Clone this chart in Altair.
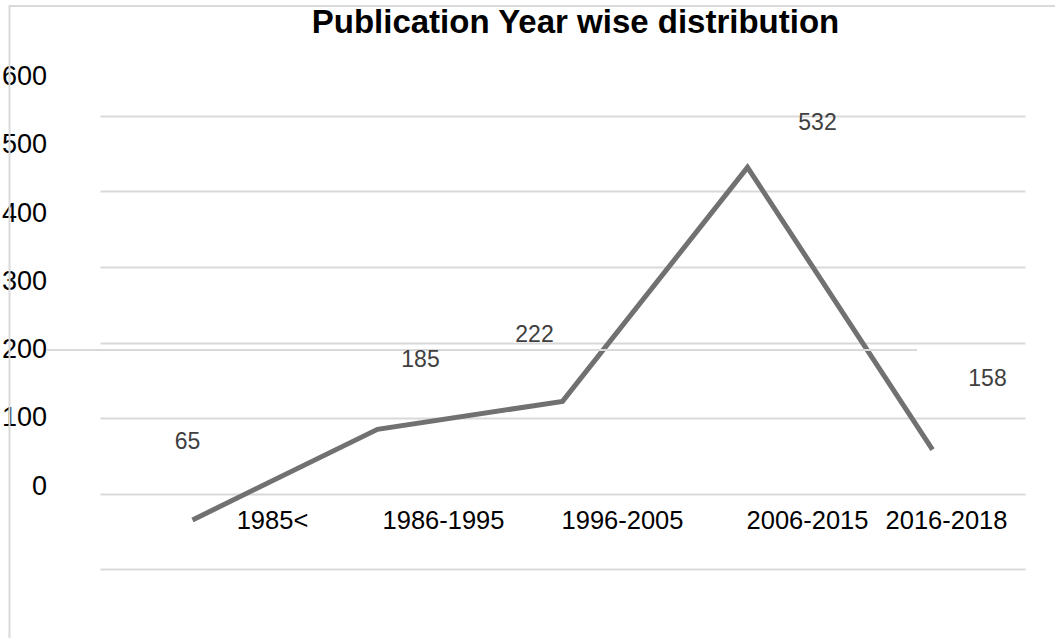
import altair as alt
import pandas as pd

# ---- data ----
categories = ["1985<", "1986-1995", "1996-2005", "2006-2015", "2016-2018"]
counts = [65, 185, 222, 532, 158]
y_tick_labels = [0, 100, 200, 300, 400, 500, 600]
title_text = "Publication Year wise distribution"

# ---- layout nudges (pixels, style only) ----
value_label_dx = [-5, 43, -28, 70, 55]
cat_label_dx = [80, 66, 60, 60, 14]

FONT = "Liberation Sans"
GRID = "#d9d9d9"

df = pd.DataFrame({"cat": categories, "value": counts})
ticks_df = pd.DataFrame({"tick": y_tick_labels, "lab": [str(t) for t in y_tick_labels]})

W, H = 925, 453
x_enc = alt.X("cat:N", sort=categories, axis=None,
              scale=alt.Scale(type="point", padding=0.5))
plot_scale = alt.Scale(domain=[0, 600], nice=False, zero=True)
# the label layer uses its own (offset) vertical scale, as in the source picture
text_scale = alt.Scale(domain=[0, 600], range=[370.5, -39], nice=False)

line = alt.Chart(df).mark_line(color="#717171", strokeWidth=5).encode(
    x=x_enc,
    y=alt.Y("value:Q", scale=plot_scale,
            axis=alt.Axis(values=y_tick_labels, grid=True, gridColor=GRID, gridWidth=2,
                          labels=False, ticks=False, domain=False, title=None)),
)

layers = [line]

# y "axis" labels
ylabels = alt.Chart(ticks_df).mark_text(
    align="right", baseline="middle", font=FONT, fontSize=27, color="#000000"
).encode(
    x=alt.value(-53),
    y=alt.Y("tick:Q", scale=text_scale, axis=None),
    text="lab:N",
)
layers.append(ylabels)

# stray gridline through the 200 label
stray = alt.Chart(pd.DataFrame({"v": [200]})).mark_rule(color=GRID, strokeWidth=2).encode(
    x=alt.value(-53), x2=alt.value(817),
    y=alt.Y("v:Q", scale=text_scale, axis=None),
)
layers.append(stray)

for i, (c, v) in enumerate(zip(categories, counts)):
    sub = df.iloc[[i]]
    layers.append(
        alt.Chart(sub).mark_text(
            align="center", baseline="middle", font=FONT, fontSize=23,
            color="#404040", dx=value_label_dx[i]
        ).encode(
            x=x_enc,
            y=alt.Y("value:Q", scale=text_scale, axis=None),
            text="value:Q",
        )
    )
    layers.append(
        alt.Chart(sub).mark_text(
            align="center", baseline="middle", font=FONT, fontSize=25.5,
            color="#000000", dx=cat_label_dx[i]
        ).encode(
            x=x_enc,
            y=alt.value(405),
            text="cat:N",
        )
    )

# outer frame (top and left edges visible)
one = pd.DataFrame({"a": [0]})
frame_top = alt.Chart(one).mark_rule(color=GRID, strokeWidth=2).encode(
    x=alt.value(-91), x2=alt.value(1000), y=alt.value(-110))
frame_left = alt.Chart(one).mark_rule(color=GRID, strokeWidth=2).encode(
    x=alt.value(-90.5), y=alt.value(-111), y2=alt.value(600))
layers += [frame_top, frame_left]

title = alt.Chart(pd.DataFrame({"t": [title_text]})).mark_text(
    align="center", baseline="middle", font=FONT, fontSize=33, fontWeight="bold", color="#000000"
).encode(x=alt.value(475.5), y=alt.value(-93), text="t:N")
layers.append(title)

chart = alt.layer(*layers).resolve_scale(y="independent").properties(
    width=W, height=H,
    background="white",
    autosize=alt.AutoSizeParams(type="none"),
    padding={"left": 100, "top": 116, "right": 30, "bottom": 69},
).configure_view(strokeWidth=0, stroke="transparent")

chart.save("out.html", embed_options={"renderer": "svg", "actions": False})
